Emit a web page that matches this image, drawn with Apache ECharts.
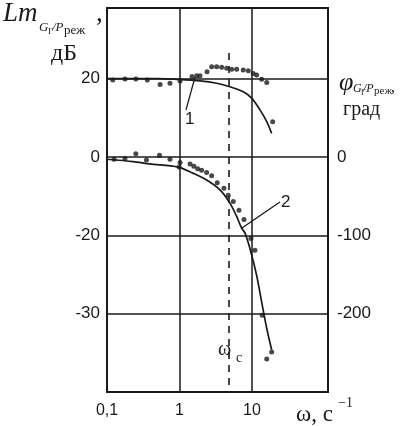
<!DOCTYPE html>
<html>
<head>
<meta charset="utf-8">
<script src="https://cdn.jsdelivr.net/npm/echarts@6/dist/echarts.min.js"></script>
<style>
  html, body { margin: 0; padding: 0; background: #fff; }
  #main { width: 419px; height: 426px; }
</style>
</head>
<body>
<div id="main"></div>
<script>
// curve 1: Lm, dB (measured points and model line)
var lmOmega = [0.12, 0.177, 0.25, 0.36, 0.54, 0.74, 1.02, 1.49, 1.73, 1.92, 2.4, 2.78, 3.26, 3.82, 4.48, 5.25, 6.15, 7.59, 8.9, 10.4, 11.6, 13.6, 16.0, 19.3];
var lmDb = [19.6, 19.9, 19.9, 19.6, 18.5, 18.8, 19.4, 20.5, 20.7, 20.7, 21.7, 23.0, 23.0, 22.9, 22.6, 22.4, 22.4, 22.2, 22.0, 21.3, 20.9, 19.8, 19.0, 9.0];
var lmModelOmega = [0.1, 0.5, 0.91, 1.92, 3.26, 4.97, 7.59, 9.9, 12.9, 16.0, 18.7];
var lmModelDb = [20, 20, 19.8, 19.4, 18.8, 17.9, 16.6, 15.0, 12.0, 9.0, 6.0];

// curve 2: phase, deg
var phaseOmega = [0.125, 0.177, 0.25, 0.35, 0.53, 0.74, 0.99, 1.02, 1.40, 1.58, 1.78, 2.02, 2.37, 2.78, 3.32, 4.11, 4.71, 5.52, 6.62, 7.76, 9.68, 11.0, 13.9, 18.7, 16.0];
var phaseDeg = [-3, -2, 4, -4, 2, -3, -13, -7, -9, -12, -15, -17, -20, -24, -33, -40, -49, -57, -68, -80, -104, -119, -202, -249, -258];
var phaseModelOmega = [0.1, 0.23, 0.39, 0.96, 1.55, 2.37, 3.62, 4.97, 6.15, 7.21, 8.0, 9.38, 11.6, 13.6, 16.0, 18.7];
var phaseModelDeg = [-3, -6, -9, -13, -21, -29.5, -42, -59, -76, -91, -97, -117, -151, -185, -219, -246];

// ticks
var xTickValues = [0.1, 1, 10];
var xTickLabels = ['0,1', '1', '10'];
var dbTickValues = [20, 0, -20, -40];
var dbTickLabels = ['20', '0', '-20', '-30'];
var degTickValues = [0, -100, -200];
var degTickLabels = ['0', '-100', '-200'];
var omegaC = 4.8;

function pairs(xs, ys) {
    return xs.map(function (x, i) { return [x, ys[i]]; });
}
function lookup(values, labels) {
    return function (v) {
        for (var i = 0; i < values.length; i++) {
            if (Math.abs(v - values[i]) < 1e-6) return labels[i];
        }
        return '';
    };
}

var ink = '#1a1a1a';
var serif = 'Liberation Serif';
var sans = 'Liberation Sans';

var myChart = echarts.init(document.getElementById('main'));
var option = {
    animation: false,
    backgroundColor: '#fff',
    grid: { left: 107, top: 8, right: 91, bottom: 34, show: true, borderColor: ink, borderWidth: 2 },
    xAxis: {
        type: 'log', logBase: 10, min: 0.1, max: 112,
        axisLine: { show: false }, axisTick: { show: false },
        splitLine: { show: false },
        axisLabel: { margin: 11, color: ink, fontFamily: sans, fontSize: 16, formatter: lookup(xTickValues, xTickLabels) }
    },
    yAxis: [{
        type: 'value', min: -60, max: 38, interval: 20,
        axisLine: { show: false }, axisTick: { show: false },
        splitLine: { lineStyle: { color: ink, width: 1.5 } },
        axisLabel: { margin: 7, color: ink, fontFamily: sans, fontSize: 17, formatter: lookup(dbTickValues, dbTickLabels) }
    }, {
        type: 'value', min: -300, max: 190, interval: 100, position: 'right',
        axisLine: { show: false }, axisTick: { show: false }, splitLine: { show: false },
        axisLabel: { margin: 9, color: ink, fontFamily: sans, fontSize: 17, formatter: lookup(degTickValues, degTickLabels) }
    }],
    series: [{
        name: 'grid',
        type: 'line', data: [], yAxisIndex: 0,
        markLine: {
            silent: true, symbol: 'none', label: { show: false },
            lineStyle: { color: ink, width: 1.5, type: 'solid' },
            data: [{ xAxis: 1 }, { xAxis: 10 }]
        }
    }, {
        name: 'Lm model', type: 'line', yAxisIndex: 0, smooth: 0.3, showSymbol: false,
        lineStyle: { color: ink, width: 1.7 },
        data: pairs(lmModelOmega, lmModelDb),
        markLine: {
            silent: true, symbol: 'none', label: { show: false },
            data: [
                [{ coord: [omegaC, 26.5], lineStyle: { type: [7, 6], width: 1.6, color: ink } }, { coord: [omegaC, -60] }],
                [{ coord: [1.23, 12.0], lineStyle: { type: 'solid', width: 1.3, color: ink } }, { coord: [1.64, 20.4] }]
            ]
        }
    }, {
        name: 'Lm points', type: 'scatter', yAxisIndex: 0, symbol: 'circle', symbolSize: 5,
        itemStyle: { color: ink },
        data: pairs(lmOmega, lmDb)
    }, {
        name: 'phase model', type: 'line', yAxisIndex: 1, smooth: 0.3, showSymbol: false,
        lineStyle: { color: ink, width: 1.7 },
        data: pairs(phaseModelOmega, phaseModelDeg),
        markLine: {
            silent: true, symbol: 'none', label: { show: false },
            data: [
                [{ coord: [7.28, -90.7], lineStyle: { type: 'solid', width: 1.3, color: ink } }, { coord: [24.3, -57.5] }]
            ]
        }
    }, {
        name: 'phase points', type: 'scatter', yAxisIndex: 1, symbol: 'circle', symbolSize: 5,
        itemStyle: { color: ink },
        data: pairs(phaseOmega, phaseDeg)
    }],
    graphic: [
        { type: 'text', x: 3, y: 0, style: { text: 'Lm', font: 'italic 27px ' + serif, fill: ink } },
        { type: 'text', x: 39, y: 21, style: { text: 'G', font: 'italic 13px ' + serif, fill: ink } },
        { type: 'text', x: 48, y: 27, style: { text: 'Г', font: '9px ' + serif, fill: ink } },
        { type: 'text', x: 52, y: 21, style: { text: '/P', font: 'italic 13px ' + serif, fill: ink } },
        { type: 'text', x: 64, y: 24, style: { text: 'реж', font: '13px ' + serif, fill: ink } },
        { type: 'text', x: 96, y: 0, style: { text: ',', font: '27px ' + serif, fill: ink } },
        { type: 'text', x: 51, y: 42, style: { text: 'дБ', font: '24px ' + serif, fill: ink } },

        { type: 'text', x: 339, y: 70, style: { text: 'φ', font: 'italic 26px ' + serif, fill: ink } },
        { type: 'text', x: 353, y: 83, style: { text: 'G', font: 'italic 12px ' + serif, fill: ink } },
        { type: 'text', x: 361, y: 89, style: { text: 'Г', font: '8px ' + serif, fill: ink } },
        { type: 'text', x: 363, y: 83, style: { text: '/P', font: 'italic 12px ' + serif, fill: ink } },
        { type: 'text', x: 374, y: 86, style: { text: 'реж', font: '11px ' + serif, fill: ink } },
        { type: 'text', x: 391, y: 80, style: { text: ',', font: '16px ' + serif, fill: ink } },
        { type: 'text', x: 343, y: 100, style: { text: 'град', font: '20px ' + serif, fill: ink } },

        { type: 'text', x: 185, y: 111, style: { text: '1', font: '17px ' + sans, fill: ink } },
        { type: 'text', x: 281, y: 194, style: { text: '2', font: '17px ' + sans, fill: ink } },
        { type: 'text', x: 218, y: 340, style: { text: 'ω', font: '20px ' + serif, fill: ink } },
        { type: 'text', x: 236, y: 351, style: { text: 'c', font: '14px ' + serif, fill: ink } },
        { type: 'text', x: 296, y: 403, style: { text: 'ω, c', font: '23px ' + serif, fill: ink } },
        { type: 'text', x: 338, y: 396, style: { text: '−1', font: '14px ' + serif, fill: ink } }
    ]
};
myChart.setOption(option);
</script>
</body>
</html>
